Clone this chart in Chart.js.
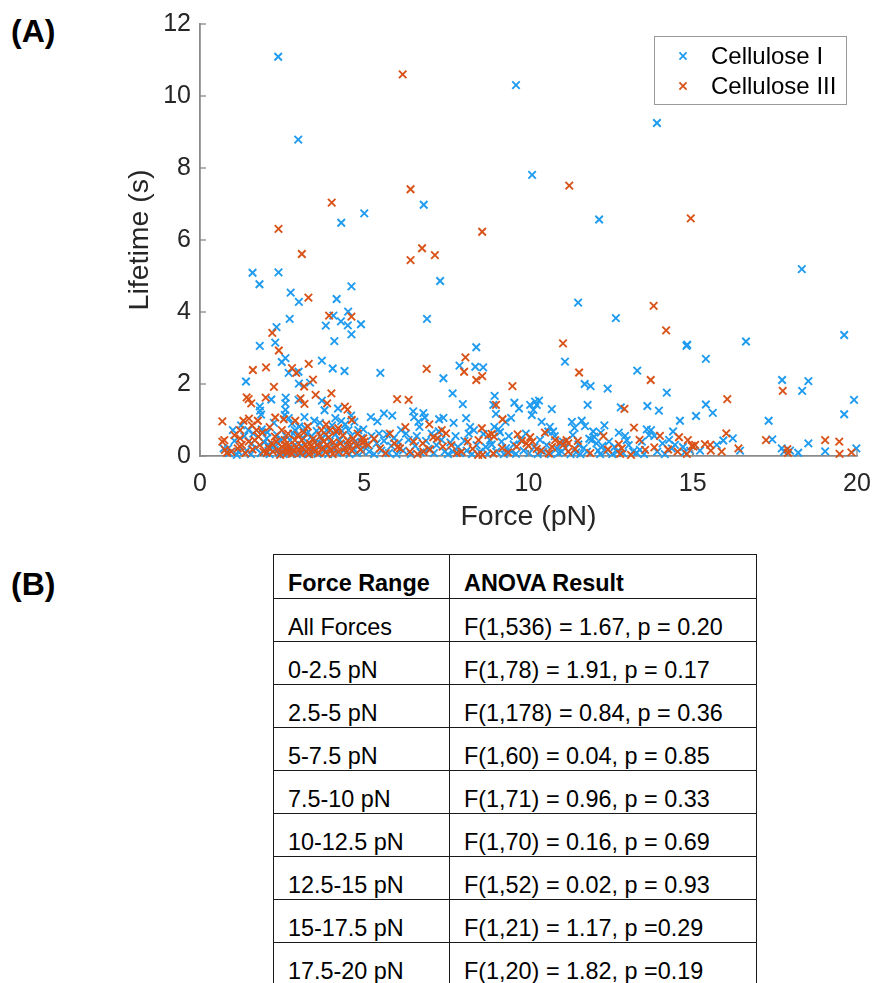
<!DOCTYPE html>
<html>
<head>
<meta charset="utf-8">
<script src="https://cdn.jsdelivr.net/npm/chart.js@4.4.0/dist/chart.umd.min.js"></script>
<style>
  body { margin: 0; background: #fff; width: 875px; height: 983px; position: relative; overflow: hidden;
         font-family: "Liberation Sans", Arial, Helvetica, sans-serif; }
  #chartBox { position: absolute; left: 0; top: 0; width: 875px; height: 545px; }
  .panel { position: absolute; left: 11px; font-weight: bold; font-size: 32px; color: #000; }
  #anova { position: absolute; left: 273px; top: 554px; width: 483px; table-layout: fixed;
           border-collapse: collapse; font-size: 23.4px; color: #000; }
  #anova th, #anova td { border: 1.5px solid #1a1a1a; text-align: left; vertical-align: bottom;
           padding: 0 0 1px 14px; line-height: 26px; white-space: nowrap; }
  #anova tr { height: 43px; }
  #anova tr.head { height: 44px; }
  #anova th { font-weight: bold; padding-bottom: 2px; }
</style>
</head>
<body>
<div class="panel" style="top:13px">(A)</div>
<div class="panel" style="top:566px">(B)</div>
<div id="chartBox"><canvas id="scatter" width="875" height="545"></canvas></div>
<table id="anova">
  <colgroup><col style="width:176px"><col style="width:307px"></colgroup>
  <tbody id="anovaBody"></tbody>
</table>

<script>
// lifetime (s) vs force (pN), one [force, lifetime] pair per bond event
const celluloseI = [
  // 0 - 2.5 pN
  [2.38,11.09],[1.60,5.09],[2.39,5.10],[1.81,4.77],[2.33,3.58],[2.29,3.15],[1.82,3.06],[1.40,2.07],
  [1.82,1.38],[1.83,1.26],[1.86,1.15],[2.17,1.57],[1.00,0.72],[0.72,0.21],[1.47,0.72],[1.88,0.74],
  [0.86,0.21],[1.17,0.12],[1.57,0.35],[2.03,0.49],[2.08,0.31],[2.13,0.21],[2.28,0.17],[2.38,0.35],
  [0.88,0.08],[1.05,0.42],[1.12,0.03],[1.35,0.55],[1.42,0.15],[1.55,0.05],[1.62,0.62],[1.70,0.22],
  [1.85,0.08],[1.95,0.38],[2.05,0.66],[2.12,0.05],[2.22,0.28],[2.35,0.58],[2.42,0.08],[2.45,0.44],
  [1.25,0.85],[2.25,0.92],
  // 2.5 - 5 pN
  [2.99,8.79],[4.30,6.48],[2.76,4.54],[3.01,4.28],[2.73,3.81],[4.61,4.71],[4.16,4.36],[4.06,3.90],
  [4.51,4.01],[4.29,3.74],[4.50,3.63],[4.90,3.66],[3.83,3.62],[4.61,3.38],[4.09,3.19],[2.49,2.61],
  [2.60,2.72],[2.70,2.31],[3.00,2.34],[3.01,2.01],[3.35,2.04],[3.71,2.65],[4.04,2.43],[4.40,2.36],
  [3.71,1.54],[3.79,1.27],[4.20,1.32],[4.60,1.12],[2.61,1.62],[2.60,1.46],[2.60,1.28],[2.58,1.14],
  [3.00,1.56],[2.70,1.05],[4.30,0.97],[2.89,0.72],[3.20,0.77],[3.86,0.72],[4.52,0.72],[4.82,0.72],
  [2.69,0.21],[2.74,0.44],[2.89,0.31],[3.15,0.49],[3.50,0.40],[3.60,0.26],[3.70,0.49],[4.97,0.74],
  [2.55,0.05],[2.62,0.55],[2.78,0.12],[2.84,0.62],[2.95,0.05],[3.02,0.82],[3.08,0.28],[3.12,0.10],
  [3.25,0.62],[3.28,0.05],[3.40,0.55],[3.42,0.12],[3.55,0.70],[3.58,0.06],[3.65,0.35],[3.78,0.15],
  [3.82,0.58],[3.90,0.05],[3.95,0.40],[4.02,0.85],[4.08,0.22],[4.12,0.60],[4.18,0.08],[4.25,0.45],
  [4.32,0.70],[4.38,0.15],[4.42,0.88],[4.48,0.32],[4.55,0.05],[4.60,0.55],[4.68,0.20],[4.72,0.40],
  [4.78,0.08],[4.85,0.30],[4.92,0.50],[4.95,0.12],[3.18,1.08],[3.48,0.98],[4.12,1.05],[4.70,0.95],
  [3.65,0.92],[2.80,0.90],
  // 5 - 7.5 pN
  [5.00,6.74],[6.81,6.98],[7.31,4.86],[6.91,3.81],[5.49,2.31],[7.41,2.16],[5.20,1.08],[5.40,0.96],
  [5.60,1.18],[5.69,0.60],[6.27,0.62],[6.49,1.24],[6.52,1.08],[6.80,1.19],[6.84,1.07],[6.68,0.81],
  [7.28,1.02],[7.41,1.06],[7.27,0.68],
  [5.05,0.30],[5.15,0.12],[5.22,0.55],[5.30,0.05],[5.38,0.35],[5.45,0.62],[5.52,0.15],[5.60,0.42],
  [5.75,0.08],[5.82,0.28],[5.90,0.50],[5.98,0.05],[6.05,0.38],[6.12,0.72],[6.18,0.15],[6.35,0.45],
  [6.42,0.05],[6.55,0.28],[6.60,0.55],[6.72,0.10],[6.88,0.42],[6.95,0.20],[7.05,0.62],[7.12,0.08],
  [7.20,0.30],[7.35,0.45],[7.45,0.12],[5.85,1.12],[6.65,0.95],
  // 7.5 - 10 pN
  [9.62,10.30],[7.69,1.74],[8.00,1.44],[7.90,2.51],[8.41,3.02],[8.38,2.48],[8.62,2.46],[8.22,0.80],
  [8.34,0.72],[8.97,1.67],[8.93,1.42],[9.01,1.17],[9.47,1.06],[9.57,1.48],[9.71,1.32],[8.96,0.81],
  [9.13,0.66],[8.63,0.61],[8.83,0.44],[9.08,0.74],
  [7.55,0.05],[7.62,0.38],[7.70,0.12],[7.78,0.55],[7.85,0.25],[7.92,0.08],[8.05,0.42],[8.12,0.15],
  [8.18,0.62],[8.28,0.05],[8.42,0.30],[8.52,0.12],[8.70,0.25],[8.75,0.05],[8.88,0.32],[9.02,0.12],
  [9.18,0.40],[9.25,0.05],[9.32,0.22],[9.40,0.55],[9.48,0.12],[9.55,0.32],[9.62,0.06],[9.75,0.45],
  [9.85,0.15],[9.92,0.62],[8.10,1.05],[7.72,0.92],[9.30,0.95],
  // 10 - 12.5 pN
  [10.11,7.81],[12.15,6.57],[11.51,4.26],[11.11,2.62],[11.71,2.00],[11.89,1.94],[12.41,1.87],
  [10.05,1.42],[10.15,1.28],[10.25,1.42],[10.32,1.54],[10.20,1.51],[10.10,1.14],[10.71,1.30],
  [11.80,1.42],[11.32,0.95],[11.62,0.98],[11.72,0.83],[12.31,0.85],[10.65,0.81],[10.60,0.68],
  [10.75,0.68],[11.97,0.68],[12.00,0.54],[11.92,0.44],[12.07,0.35],[10.86,0.21],[11.01,0.12],
  [10.02,0.08],[10.18,0.25],[10.28,0.05],[10.35,0.45],[10.45,0.12],[10.55,0.30],[10.68,0.05],
  [10.80,0.55],[10.92,0.08],[11.05,0.40],[11.12,0.22],[11.28,0.05],[11.35,0.58],[11.45,0.10],
  [11.52,0.32],[11.58,0.05],[11.68,0.22],[11.78,0.12],[11.85,0.48],[12.12,0.15],[12.18,0.05],
  [12.25,0.28],[12.35,0.12],[12.45,0.40],[11.40,0.78],[10.40,0.95],[12.20,0.65],
  // 12.5 - 15 pN
  [13.91,9.25],[12.66,3.83],[14.81,3.06],[14.83,3.09],[13.31,2.37],[14.21,1.76],[12.81,1.35],
  [13.62,1.39],[13.97,1.26],[14.61,0.98],[12.94,0.56],[12.99,0.44],[13.60,0.74],[13.73,0.72],
  [13.67,0.58],[13.83,0.56],[13.29,0.09],[13.39,0.17],[14.36,0.21],[14.46,0.31],
  [12.55,0.05],[12.62,0.25],[12.70,0.12],[12.88,0.08],[13.05,0.30],[13.18,0.12],[13.45,0.40],
  [13.52,0.05],[13.92,0.12],[14.08,0.35],[14.15,0.05],[14.28,0.45],[14.70,0.25],[14.75,0.10],
  [14.92,0.15],[12.75,0.65],[14.40,0.68],
  // 15 - 17.5 pN
  [16.62,3.18],[15.40,2.70],[15.40,1.43],[15.61,1.20],[15.10,1.11],[17.31,0.98],[17.42,0.46],
  [16.22,0.49],[15.93,0.43],[15.73,0.31],[15.22,0.15],[16.44,0.15],
  // 17.5 - 20 pN
  [18.32,5.19],[19.61,3.36],[17.72,2.11],[18.33,1.81],[18.52,2.08],[19.91,1.56],[19.61,1.16],
  [18.52,0.35],[17.71,0.21],[17.78,0.12],[17.96,0.15],[18.21,0.09],[19.03,0.13],[19.98,0.21]
];

const celluloseIII = [
  // 0 - 2.5 pN
  [2.39,6.31],[2.20,3.42],[2.40,2.93],[1.61,2.39],[2.01,2.46],[2.25,1.92],[1.42,1.63],[1.48,1.58],
  [1.56,1.46],[2.00,1.62],[2.29,1.07],[0.68,0.96],[1.32,0.98],[1.49,1.04],[1.76,0.98],[0.68,0.40],
  [0.76,0.17],[0.82,0.09],[1.22,0.26],[1.22,0.72],[1.72,0.72],[0.74,0.44],[1.22,0.49],[1.27,0.31],
  [1.15,0.21],[1.67,0.44],[1.78,0.54],[1.93,0.12],[2.03,0.09],[2.28,0.54],[2.18,0.35],[2.38,0.17],
  [2.49,0.26],[2.49,0.72],
  [0.95,0.12],[1.05,0.58],[1.38,0.08],[1.48,0.40],[1.60,0.18],[1.82,0.30],[1.90,0.65],[2.10,0.22],
  [2.22,0.12],[2.32,0.40],[2.44,0.03],[1.58,0.85],[2.12,0.80],
  // 2.5 - 5 pN
  [4.01,7.04],[3.10,5.61],[3.30,4.40],[3.93,3.90],[4.61,3.87],[2.80,2.44],[2.93,2.31],[3.31,2.56],
  [3.17,1.93],[3.44,2.12],[4.00,1.74],[3.52,1.70],[3.87,1.46],[4.41,1.37],[4.49,1.29],[3.06,1.60],
  [3.18,1.45],[2.90,0.98],[3.70,0.72],[3.96,0.72],[4.21,0.77],[2.89,0.44],[3.10,0.44],[3.20,0.31],
  [3.35,0.35],[3.45,0.21],[3.30,0.17],[3.00,0.17],[2.64,0.17],[2.59,0.31],[4.97,0.49],
  [2.52,0.12],[2.58,0.45],[2.66,0.08],[2.70,0.30],[2.75,0.20],[2.80,0.06],[2.85,0.15],[2.93,0.25],
  [2.98,0.58],[3.05,0.08],[3.12,0.22],[3.16,0.65],[3.24,0.12],[3.32,0.05],[3.38,0.28],[3.44,0.48],
  [3.50,0.12],[3.56,0.30],[3.62,0.08],[3.66,0.55],[3.72,0.22],[3.76,0.40],[3.82,0.10],[3.88,0.30],
  [3.92,0.52],[3.98,0.18],[4.04,0.05],[4.06,0.38],[4.14,0.28],[4.22,0.12],[4.28,0.35],[4.35,0.58],
  [4.40,0.22],[4.45,0.10],[4.50,0.42],[4.56,0.28],[4.62,0.15],[4.66,0.48],[4.75,0.30],[4.80,0.62],
  [4.88,0.18],[4.94,0.38],[2.68,0.62],[3.28,0.82],[3.84,0.88],[4.15,0.68],[2.55,1.02],[4.62,1.00],
  // 5 - 7.5 pN
  [6.17,10.60],[6.41,7.41],[6.76,5.77],[6.41,5.44],[7.15,5.58],[6.90,2.42],[6.00,1.58],[6.35,1.56],
  [6.98,0.88],[7.36,0.72],[6.25,0.80],[6.02,0.25],[6.09,0.21],[7.10,0.52],[7.49,0.63],[6.78,0.35],
  [6.80,0.12],[7.39,0.26],[6.39,0.12],[5.48,0.21],[5.12,0.31],[7.23,0.49],[5.01,0.40],
  [5.30,0.48],[5.65,0.08],[5.92,0.35],[6.50,0.40],[6.62,0.05],[7.00,0.18],[5.78,0.62],
  // 7.5 - 10 pN
  [8.59,6.23],[8.08,2.74],[8.04,2.34],[8.41,2.11],[8.59,2.22],[8.48,0.44],[9.01,1.42],[9.21,1.02],
  [9.51,1.94],[9.67,0.60],[8.88,0.61],[8.58,0.77],[8.78,0.58],[8.95,0.54],[7.96,0.12],[8.47,0.03],
  [8.60,0.03],[9.64,0.26],[9.94,0.35],[8.93,0.07],
  [7.65,0.30],[7.82,0.08],[8.15,0.40],[8.30,0.20],[9.20,0.22],[9.38,0.10],[9.80,0.42],
  // 10 - 12.5 pN
  [11.24,7.51],[11.05,3.13],[11.54,2.32],[10.50,0.65],[10.05,0.52],[10.12,0.40],[10.00,0.28],
  [10.81,0.44],[10.96,0.37],[11.16,0.44],[11.06,0.31],[11.21,0.35],[10.38,0.15],[10.62,0.07],
  [11.42,0.19],[11.21,0.12],
  [10.25,0.20],[10.72,0.25],[11.50,0.42],[11.88,0.08],[12.28,0.55],[12.42,0.18],
  // 12.5 - 15 pN
  [14.94,6.60],[13.81,4.17],[14.19,3.49],[13.72,2.11],[12.92,1.31],[13.21,0.79],[14.00,0.56],
  [12.75,0.33],[12.84,0.21],[12.79,0.06],[13.12,0.03],[13.55,0.17],[13.83,0.24],[14.58,0.52],
  [14.85,0.44],[14.97,0.28],[14.54,0.12],[14.82,0.06],[13.38,0.45],[14.25,0.18],
  // 15 - 17.5 pN
  [16.05,1.58],[17.23,0.44],[16.02,0.63],[16.39,0.21],[15.37,0.33],[15.53,0.31],[15.88,0.12],
  [15.55,0.15],[15.02,0.26],[15.07,0.31],
  // 17.5 - 20 pN
  [17.74,1.81],[19.03,0.44],[19.46,0.40],[19.47,0.06],[19.83,0.10],[17.88,0.19],[17.90,0.09]
];

const xTicks = [0, 5, 10, 15, 20];
const yTicks = [0, 2, 4, 6, 8, 10, 12];

const forceRanges = ["All Forces", "0-2.5 pN", "2.5-5 pN", "5-7.5 pN", "7.5-10 pN",
                     "10-12.5 pN", "12.5-15 pN", "15-17.5 pN", "17.5-20 pN"];
const anovaResults = ["F(1,536) = 1.67, p = 0.20", "F(1,78) = 1.91, p = 0.17",
                      "F(1,178) = 0.84, p = 0.36", "F(1,60) = 0.04, p = 0.85",
                      "F(1,71) = 0.96, p = 0.33", "F(1,70) = 0.16, p = 0.69",
                      "F(1,52) = 0.02, p = 0.93", "F(1,21) = 1.17, p =0.29",
                      "F(1,20) = 1.82, p =0.19"];

const FONT = '"Liberation Sans", Arial, Helvetica, sans-serif';
const BLUE = '#1f9bf0';
const ORANGE = '#d95319';
const AXIS = '#8a8a8a';

// table (B)
const body = document.getElementById("anovaBody");
const head = document.createElement("tr");
head.className = "head";
head.innerHTML = "<th>Force Range</th><th>ANOVA Result</th>";
body.appendChild(head);
forceRanges.forEach((range, i) => {
    const tr = document.createElement("tr");
    const a = document.createElement("td");
    const b = document.createElement("td");
    a.textContent = range;
    b.textContent = anovaResults[i];
    tr.appendChild(a);
    tr.appendChild(b);
    body.appendChild(tr);
});

// MATLAB style ticks pointing into the plot
const inwardTicks = {
    id: "inwardTicks",
    afterDraw(chart) {
        const { ctx, chartArea, scales } = chart;
        ctx.save();
        ctx.strokeStyle = AXIS;
        ctx.lineWidth = 1.3;
        scales.x.ticks.forEach(t => {
            const px = scales.x.getPixelForValue(t.value);
            ctx.beginPath();
            ctx.moveTo(px, chartArea.bottom);
            ctx.lineTo(px, chartArea.bottom - 6);
            ctx.stroke();
        });
        scales.y.ticks.forEach(t => {
            const py = scales.y.getPixelForValue(t.value);
            ctx.beginPath();
            ctx.moveTo(chartArea.left, py);
            ctx.lineTo(chartArea.left + 6, py);
            ctx.stroke();
        });
        ctx.restore();
    }
};

// boxed legend in the upper right corner of the axes
const boxLegend = {
    id: "boxLegend",
    afterDraw(chart) {
        const { ctx, chartArea } = chart;
        const w = 192, h = 68;
        const left = chartArea.right - 11 - w;
        const top = chartArea.top + 12;
        ctx.save();
        ctx.fillStyle = "#fff";
        ctx.fillRect(left, top, w, h);
        ctx.strokeStyle = "#9a9a9a";
        ctx.lineWidth = 1;
        ctx.strokeRect(left + 0.5, top + 0.5, w, h);
        ctx.font = "24px " + FONT;
        ctx.textBaseline = "middle";
        ctx.fillStyle = "#000";
        chart.data.datasets.forEach((ds, i) => {
            const cy = top + 20 + i * 30;
            ctx.strokeStyle = ds.borderColor;
            ctx.lineWidth = 1.8;
            Chart.helpers.drawPoint(ctx, { pointStyle: "crossRot", radius: 5, rotation: 0, borderWidth: 1.8 }, left + 29, cy);
            ctx.fillText(ds.label, left + 57, cy + 1);
        });
        ctx.restore();
    }
};

const toPoints = arr => arr.map(p => ({ x: p[0], y: p[1] }));

new Chart(document.getElementById("scatter"), {
    type: "scatter",
    data: {
        datasets: [
            { label: "Cellulose I", data: toPoints(celluloseI), borderColor: BLUE, backgroundColor: BLUE,
              pointStyle: "crossRot", pointRadius: 5.3, pointBorderWidth: 1.9, clip: false, order: 1 },
            { label: "Cellulose III", data: toPoints(celluloseIII), borderColor: ORANGE, backgroundColor: ORANGE,
              pointStyle: "crossRot", pointRadius: 5.3, pointBorderWidth: 1.9, clip: false, order: 0 }
        ]
    },
    options: {
        responsive: false,
        animation: false,
        events: [],
        layout: { padding: { top: 24, right: 18, left: 0, bottom: 0 } },
        plugins: { legend: { display: false }, tooltip: { enabled: false } },
        scales: {
            x: {
                type: "linear", min: 0, max: 20,
                afterBuildTicks: s => { s.ticks = xTicks.map(v => ({ value: v })); },
                ticks: { padding: 13, color: "#262626", maxRotation: 0, font: { size: 25, family: FONT } },
                grid: { drawOnChartArea: false, drawTicks: false },
                border: { color: AXIS, width: 1.8 },
                title: { display: true, text: "Force (pN)", color: "#262626",
                         font: { size: 28.5, family: FONT }, padding: { top: 0, bottom: 11 } },
                afterFit: s => { s.height = 89; s.paddingLeft = 0; s.paddingRight = 0; }
            },
            y: {
                type: "linear", min: 0, max: 12,
                afterBuildTicks: s => { s.ticks = yTicks.map(v => ({ value: v })); },
                ticks: { padding: 9, color: "#262626", font: { size: 25, family: FONT } },
                grid: { drawOnChartArea: false, drawTicks: false },
                border: { color: AXIS, width: 1.8 },
                title: { display: true, text: "Lifetime (s)", color: "#262626",
                         font: { size: 28.5, family: FONT }, padding: { top: 123, bottom: 0 } },
                afterFit: s => { s.width = 200; s.paddingTop = 0; s.paddingBottom = 0; }
            }
        }
    },
    plugins: [inwardTicks, boxLegend]
});
</script>
</body>
</html>
